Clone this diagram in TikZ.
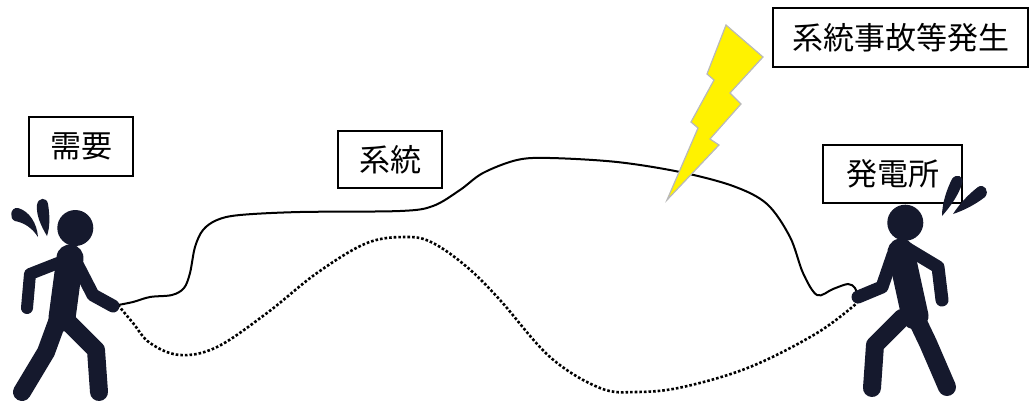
\documentclass[tikz,border=0pt]{standalone}
\usepackage{fontspec}
\setmainfont{Noto Sans CJK JP}
\begin{document}
\begin{tikzpicture}[x=1pt,y=-1pt,
  label box/.style={draw=black,line width=1.4pt,fill=white,inner sep=0pt,
    font=\fontsize{31}{36}\selectfont},
  figure ink/.style={line width=#1,draw=personcol,line cap=round,line join=round},
  cable/.style={line width=2pt,black},
  fault cable/.style={line width=2.6pt,black,dash pattern=on 2.6pt off 2pt},
  bolt/.style={fill=yellow,draw=boltgray,line width=1.2pt,line join=miter}]
\definecolor{personcol}{RGB}{21,25,45}
\definecolor{boltgray}{RGB}{185,185,185}
\useasboundingbox (0,0) rectangle (1029,402);

% labels
\node[label box,minimum width=104pt,minimum height=59pt] (demand) at (81,146.5) {需要};
\node[label box,minimum width=104pt,minimum height=57pt] (grid) at (390,159.5) {系統};
\node[label box,minimum width=255pt,minimum height=59pt] (fault) at (900.5,37.5) {系統事故等発生};
\node[label box,minimum width=139pt,minimum height=58pt] (plant) at (892.5,174) {発電所};

% hands of the two people
\coordinate (demandHand) at (118,305);
\coordinate (plantHand) at (857,296);
\coordinate (plantHandLow) at (857,303);

% normal grid connection
\draw[cable] plot[smooth,tension=0.55] coordinates {
  (demandHand) (133,302) (150,297) (172,295) (184,288) (190,273) (195,247)
  (203,230) (217,220) (240,215) (300,212) (400,211) (433,206) (460,190)
  (483,173) (517,160) (550,158) (617,162) (680,172) (733,186) (767,204)
  (790,237) (803,273) (817,295) (833,289) (848,284) (855,288) (plantHand)};

% connection after the fault
\draw[fault cable] plot[smooth,tension=0.6] coordinates {
  (demandHand) (133,323) (150,343) (180,355) (217,347) (267,313) (317,273)
  (367,243) (407,237) (433,243) (467,267) (500,300) (550,357) (600,388)
  (637,392) (683,387) (750,367) (817,333) (plantHandLow)};

% lightning bolt
\filldraw[bolt] (726,25) -- (763,57) -- (730,93) -- (741,104) -- (710,139)
  -- (719,145) -- (667,200) -- (698,128) -- (691,122) -- (714,80)
  -- (707,74) -- cycle;

% demand side person
\fill[personcol] (75.3,228) circle (18pt);
\draw[figure ink=27pt] (70,258) -- (62,318);
\draw[figure ink=12pt] (58,263) -- (30,274) -- (27,308);
\draw[figure ink=13pt] (76,262) -- (93,295) -- (113,306);
\draw[figure ink=18pt] (57,322) -- (46,352) -- (22,392);
\draw[figure ink=18pt] (66,320) -- (96,350) -- (99,392);
\fill[personcol] (38,237) .. controls (32,228) and (25,223) .. (15,221)
  .. controls (9,219) and (10,207) .. (18,208)
  .. controls (29,211) and (37,223) .. (38,237) -- cycle;
\fill[personcol] (47,236) .. controls (41,226) and (36,215) .. (37,205)
  .. controls (38,197) and (47,197) .. (48,204)
  .. controls (50,216) and (50,227) .. (47,236) -- cycle;

% power plant side person
\fill[personcol] (905.3,222.7) circle (18pt);
\draw[figure ink=27pt] (901,252) -- (915,316);
\draw[figure ink=13pt] (893,255) -- (882,287) -- (858,297);
\draw[figure ink=13pt] (908,249) -- (938,267) -- (942,300);
\draw[figure ink=18pt] (902,318) -- (875,345) -- (872,388);
\draw[figure ink=18pt] (917,320) -- (928,343) -- (947,387);
\fill[personcol] (942,216) .. controls (942,203) and (947,189) .. (952,179)
  .. controls (956,173) and (965,176) .. (962,184)
  .. controls (958,196) and (950,207) .. (942,216) -- cycle;
\fill[personcol] (953,214) .. controls (960,203) and (969,194) .. (978,187)
  .. controls (984,183) and (990,191) .. (985,197)
  .. controls (976,204) and (965,210) .. (953,214) -- cycle;
\end{tikzpicture}
\end{document}
